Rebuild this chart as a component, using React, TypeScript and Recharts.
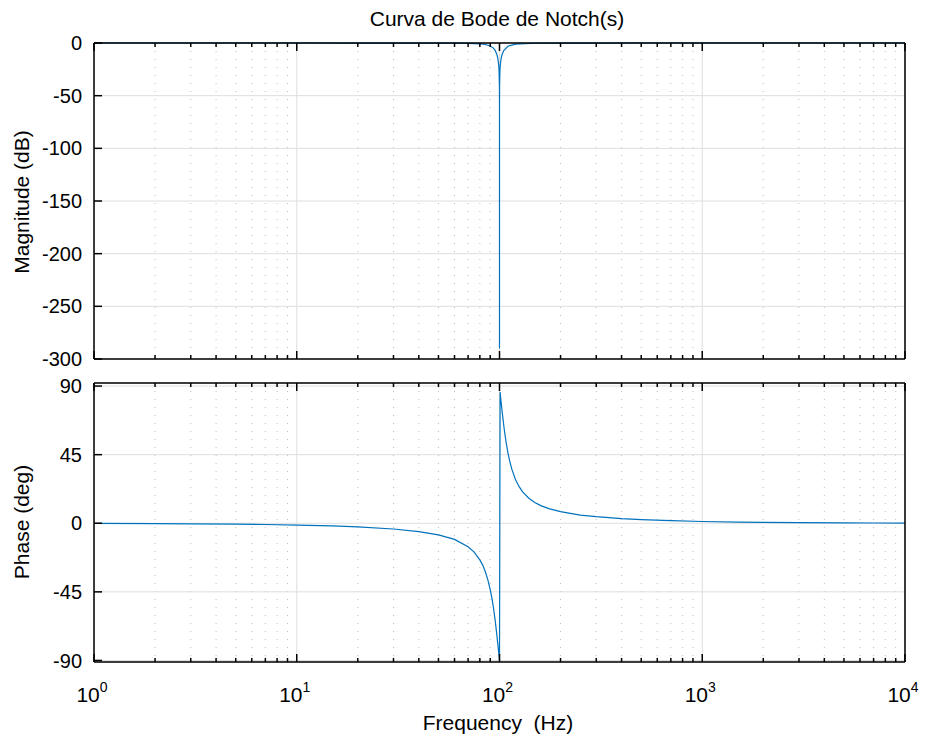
import { LineChart, Line, XAxis, YAxis, CartesianGrid } from 'recharts';

const FONT = '"Liberation Sans", Arial, Helvetica, sans-serif';
const BLUE = '#0072BD';
const THIN = 0.01; // axes need a positive size to be drawn

// x axis (log, Hz)
const decadeTicks = [1, 10, 100, 1000, 10000];
const minorTicks = [
  2, 3, 4, 5, 6, 7, 8, 9,
  20, 30, 40, 50, 60, 70, 80, 90,
  200, 300, 400, 500, 600, 700, 800, 900,
  2000, 3000, 4000, 5000, 6000, 7000, 8000, 9000,
];

// y ticks
const magTicks = [-300, -250, -200, -150, -100, -50, 0];
const phaseTicks = [-90, -45, 0, 45, 90];

// magnitude (dB)
const magFreq = [
  1, 3, 10, 20, 30, 50, 60, 70, 80, 85, 90, 93, 95, 97, 98, 99, 99.5, 99.9, 99.99,
  100, 100.01, 100.1, 100.5, 101, 102, 103, 105, 110, 120, 150, 200, 300, 500, 1000, 3000, 10000,
];
const magDb = [
  0, 0, 0, -0.01, -0.02, -0.08, -0.15, -0.32, -0.78, -1.38, -2.78, -4.6, -6.8, -10.7, -14.1, -20, -26, -40, -60,
  -290, -60, -40, -26, -20.1, -14.2, -10.9, -7.1, -3.06, -1.1, -0.24, -0.08, -0.02, 0, 0, 0, 0,
];

// phase (deg)
const phaseFreq = [
  1, 2, 3, 5, 7, 10, 15, 20, 30, 40, 50, 60, 70, 75, 80, 82.5, 85, 87.5, 90, 92, 93, 94, 95, 96, 97, 98, 98.5, 99, 99.5, 100,
  100.7, 101, 101.5, 102, 103, 104, 105, 106.5, 108, 110, 112, 115, 120, 125, 130, 140, 150, 160, 175, 200, 250, 300, 400,
  500, 700, 1000, 1500, 2000, 3000, 5000, 7000, 10000,
];
const phaseDeg = [
  -0.11, -0.23, -0.34, -0.57, -0.81, -1.16, -1.76, -2.39, -3.77, -5.44, -7.59, -10.6, -15.4, -18.9, -24.0, -27.3, -31.5, -36.8,
  -43.5, -50.1, -54.0, -58.2, -62.8, -67.8, -73.1, -78.6, -81.4, -84.3, -87.1, -90,
  86.0, 84.3, 81.5, 78.8, 73.5, 68.6, 64.0, 57.8, 52.4, 46.3, 41.4, 35.5, 28.6, 24.0, 20.6, 16.3, 13.5, 11.6, 9.6, 7.6, 5.4,
  4.3, 3.05, 2.39, 1.67, 1.16, 0.77, 0.57, 0.38, 0.23, 0.16, 0.11,
];

const magData = magFreq.map((f, i) => ({ f, v: magDb[i] }));
const phaseData = phaseFreq.map((f, i) => ({ f, v: phaseDeg[i] }));

const axisStroke = { stroke: '#000', strokeWidth: 1.5 };

// tick={false} drops the tick lines too, so draw an empty label instead
const NoLabel = () => <g />;

const PowerTick = (props: any) => {
  const { x, y, payload } = props;
  const exp = Math.round(Math.log10(payload.value));
  return (
    <text x={x - 2} y={y + 20} textAnchor="middle" fontSize={21} fill="#000" fontFamily={FONT}>
      10
      <tspan dy={-10} fontSize={14}>
        {exp}
      </tspan>
    </text>
  );
};

function xAxes(labels: boolean) {
  const common = {
    type: 'number' as const,
    scale: 'log' as const,
    domain: [1, 10000],
    dataKey: 'f',
    allowDataOverflow: true,
    height: THIN,
    interval: 0 as const,
    tickLine: axisStroke,
  };
  return (
    <>
      <XAxis
        {...common}
        xAxisId="main"
        orientation="bottom"
        ticks={decadeTicks}
        tickSize={-8}
        tickMargin={28}
        axisLine={axisStroke}
        tick={labels ? <PowerTick /> : <NoLabel />}
      />
      <XAxis {...common} xAxisId="minorB" orientation="bottom" ticks={minorTicks} tickSize={-4} axisLine={false} tick={<NoLabel />} />
      <XAxis {...common} xAxisId="mainT" orientation="top" ticks={decadeTicks} tickSize={-8} axisLine={axisStroke} tick={<NoLabel />} />
      <XAxis {...common} xAxisId="minorT" orientation="top" ticks={minorTicks} tickSize={-4} axisLine={false} tick={<NoLabel />} />
    </>
  );
}

function yAxes(domain: number[], ticks: number[]) {
  return (
    <>
      <YAxis
        yAxisId="left"
        orientation="left"
        type="number"
        domain={domain}
        ticks={ticks}
        interval={0}
        width={THIN}
        tickSize={-8}
        tickMargin={20}
        axisLine={axisStroke}
        tickLine={axisStroke}
        tick={{ fontSize: 20, fill: '#000', fontFamily: FONT }}
      />
      <YAxis
        yAxisId="right"
        orientation="right"
        type="number"
        domain={domain}
        ticks={ticks}
        interval={0}
        width={THIN}
        tickSize={-8}
        axisLine={axisStroke}
        tickLine={axisStroke}
        tick={<NoLabel />}
      />
    </>
  );
}

function grids() {
  return (
    <>
      <CartesianGrid xAxisId="minorB" yAxisId="left" horizontal={false} stroke="#bdbdbd" strokeDasharray="1 7" />
      <CartesianGrid xAxisId="main" yAxisId="left" stroke="#dedede" />
    </>
  );
}

const labelStyle: React.CSSProperties = {
  position: 'absolute',
  fontSize: 21,
  lineHeight: '24px',
  color: '#000',
  textAlign: 'center',
  whiteSpace: 'pre',
};

export default function App() {
  return (
    <div style={{ position: 'absolute', left: 0, top: 0, width: 925, height: 740, background: '#fff', fontFamily: FONT }}>
      <div style={{ position: 'absolute', left: 0, top: 0 }}>
        <LineChart width={925} height={372} data={magData} margin={{ top: 43, right: 20, bottom: 13, left: 94 }}>
          {grids()}
          {xAxes(false)}
          {yAxes([-300, 0], magTicks)}
          <Line
            xAxisId="main"
            yAxisId="left"
            type="linear"
            dataKey="v"
            stroke={BLUE}
            strokeWidth={1.2}
            dot={false}
            isAnimationActive={false}
          />
        </LineChart>
      </div>
      <div style={{ position: 'absolute', left: 0, top: 370 }}>
        <LineChart width={925} height={370} data={phaseData} margin={{ top: 13, right: 20, bottom: 78, left: 94 }}>
          {grids()}
          {xAxes(true)}
          {yAxes([-91, 92], phaseTicks)}
          <Line
            xAxisId="main"
            yAxisId="left"
            type="linear"
            dataKey="v"
            stroke={BLUE}
            strokeWidth={1.2}
            dot={false}
            isAnimationActive={false}
          />
        </LineChart>
      </div>

      <div style={{ ...labelStyle, left: 0, width: 994, top: 7 }}>Curva de Bode de Notch(s)</div>
      <div style={{ ...labelStyle, left: 0, width: 996, top: 711 }}>{'Frequency  (Hz)'}</div>
      <div style={{ ...labelStyle, left: 22 - 150, top: 202 - 12, width: 300, transform: 'rotate(-90deg)' }}>
        Magnitude (dB)
      </div>
      <div style={{ ...labelStyle, left: 22 - 150, top: 522 - 12, width: 300, transform: 'rotate(-90deg)' }}>
        Phase (deg)
      </div>
    </div>
  );
}
